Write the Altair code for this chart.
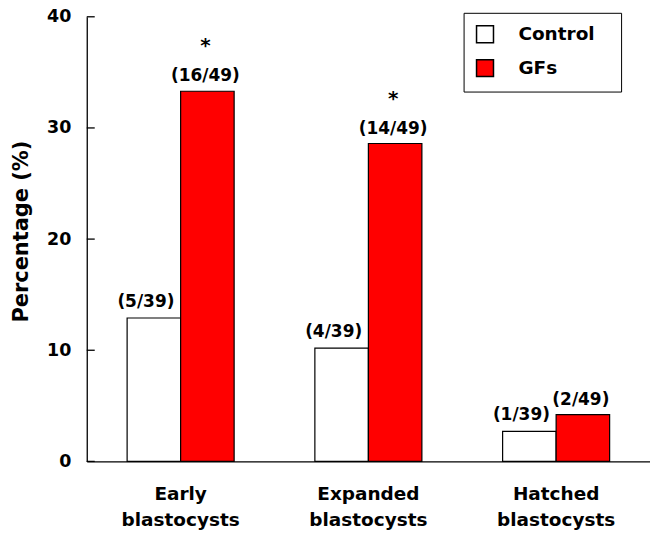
import altair as alt
import pandas as pd

groups = ["Early blastocysts", "Expanded blastocysts", "Hatched blastocysts"]
series = ["Control", "GFs"]
control_values = [12.9, 10.2, 2.7]
gfs_values = [33.3, 28.6, 4.2]
control_labels = ["(5/39)", "(4/39)", "(1/39)"]
gfs_labels = ["(16/49)", "(14/49)", "(2/49)"]
gfs_significant = [True, True, False]
y_ticks = [0, 10, 20, 30, 40]
colors = ["#ffffff", "#ff0000"]

rows = []
for i, g in enumerate(groups):
    rows.append(dict(group=g, series="Control", value=control_values[i],
                     label=control_labels[i], star=""))
    rows.append(dict(group=g, series="GFs", value=gfs_values[i],
                     label=gfs_labels[i], star="*" if gfs_significant[i] else ""))
df = pd.DataFrame(rows)
ticks_df = pd.DataFrame({"value": y_ticks})

FONT = "DejaVu Sans"

x_enc = alt.X(
    "group:N", sort=groups,
    scale=alt.Scale(paddingInner=0.43, paddingOuter=0.215),
    axis=alt.Axis(title=None, labelExpr="split(datum.label, ' ')", ticks=False,
                  labelAngle=0, labelPadding=23, labelLineHeight=26,
                  labelFont=FONT, labelFontSize=18.5, labelFontWeight="bold",
                  labelColor="black", domainColor="black", domainWidth=1.3),
)
xo_enc = alt.XOffset("series:N", sort=series)
y_enc = alt.Y(
    "value:Q", scale=alt.Scale(domain=[0, 40], nice=False, zero=True),
    axis=alt.Axis(values=y_ticks, ticks=False, grid=False, title="Percentage (%)",
                  labelPadding=16, labelFont=FONT, labelFontSize=17.5,
                  labelFontWeight="bold", labelColor="black",
                  titleFont=FONT, titleFontSize=21, titleFontWeight="bold",
                  titleColor="black", titlePadding=15, titleY=215,
                  domainColor="black", domainWidth=1.3),
)

bars = alt.Chart(df).mark_bar(stroke="black", strokeWidth=1.2).encode(
    x=x_enc, xOffset=xo_enc, y=y_enc,
    color=alt.Color(
        "series:N", sort=series,
        scale=alt.Scale(domain=series, range=colors),
        legend=alt.Legend(title="\u00a0", titleOrient="right", titlePadding=15,
                          titleFont=FONT, titleFontSize=18.5,
                          orient="none", legendX=378, legendY=-4,
                          symbolType="square", symbolSize=289,
                          symbolStrokeColor="black", symbolStrokeWidth=1.5,
                          labelFont=FONT, labelFontSize=18.5, labelFontWeight="bold",
                          labelColor="black", labelOffset=24, rowPadding=11,
                          padding=12, strokeColor="black", fillColor="white"),
    ),
)

tick_marks = alt.Chart(ticks_df).mark_rule(color="black", strokeWidth=1.3).encode(
    y=alt.Y("value:Q"), x=alt.value(0), x2=alt.value(8)
)

text_common = dict(font=FONT, fontSize=17, fontWeight="bold", color="black",
                   baseline="alphabetic", align="center")

ctrl_text = alt.Chart(df).transform_filter(alt.datum.series == "Control").mark_text(
    dy=-11, dx=-8, **text_common
).encode(x=alt.X("group:N", sort=groups), xOffset=xo_enc, y="value:Q", text="label:N")

gfs_text = alt.Chart(df).transform_filter(alt.datum.series == "GFs").mark_text(
    dy=-10, dx=-2, **text_common
).encode(x=alt.X("group:N", sort=groups), xOffset=xo_enc, y="value:Q", text="label:N")

star_text = alt.Chart(df).transform_filter(alt.datum.star != "").mark_text(
    dy=-39, dx=-2, font=FONT, fontSize=20, fontWeight="bold", color="black",
    baseline="alphabetic", align="center"
).encode(x=alt.X("group:N", sort=groups), xOffset=xo_enc, y="value:Q", text="star:N")

chart = alt.layer(bars, tick_marks, ctrl_text, gfs_text, star_text).properties(
    width=565, height=446,
    autosize=alt.AutoSizeParams(type="none"),
    padding={"left": 79, "top": 8, "right": 0, "bottom": 70},
).configure_view(stroke=None)

chart.save("out.html", embed_options={"renderer": "svg", "actions": False})
